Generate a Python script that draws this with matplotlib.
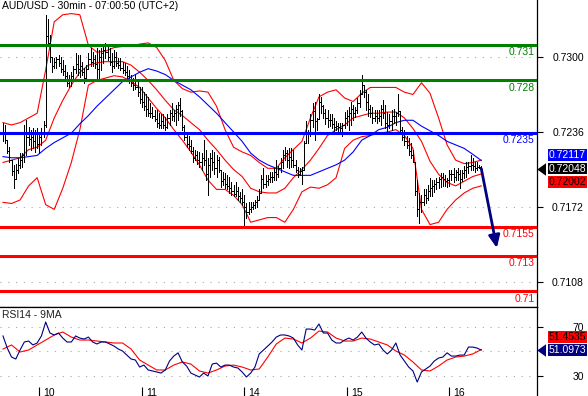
import numpy as np
import matplotlib
matplotlib.use("Agg")
import matplotlib.pyplot as plt
import matplotlib.transforms as mtransforms
from matplotlib.collections import LineCollection

plt.rcParams["font.family"] = ["Liberation Sans", "DejaVu Sans"]
plt.rcParams["font.size"] = 7.5

title = "AUD/USD - 30min - 07:00:50 (UTC+2)"

# 30min bars, prices in pips (1 pip = 0.0001)
high_pips = [
    7244, 7242, 7229, 7223, 7212, 7208, 7209, 7214, 7218, 7218,
    7242, 7246, 7240, 7238, 7239, 7238, 7239, 7236, 7239, 7245,
    7336, 7332, 7319, 7300, 7299, 7300, 7302, 7300, 7297, 7293,
    7287, 7285, 7287, 7292, 7303, 7302, 7302, 7296, 7291, 7293,
    7303, 7308, 7304, 7302, 7308, 7306, 7308, 7310, 7312, 7311,
    7308, 7303, 7306, 7304, 7299, 7299, 7296, 7295, 7292, 7289,
    7285, 7282, 7285, 7279, 7274, 7274, 7270, 7268, 7266, 7261,
    7257, 7255, 7255, 7252, 7251, 7251, 7249, 7251, 7255, 7261,
    7255, 7259, 7262, 7265, 7255, 7242, 7235, 7233, 7229, 7223,
    7221, 7220, 7219, 7218, 7229, 7221, 7214, 7218, 7221, 7219,
    7216, 7215, 7204, 7202, 7201, 7199, 7198, 7193, 7191, 7193,
    7189, 7185, 7187, 7182, 7175, 7176, 7176, 7176, 7178, 7181,
    7187, 7199, 7205, 7199, 7199, 7202, 7202, 7205, 7212, 7207,
    7214, 7221, 7223, 7221, 7222, 7222, 7221, 7212, 7206, 7205,
    7206, 7228, 7245, 7238, 7251, 7261, 7262, 7248, 7268, 7266,
    7259, 7256, 7255, 7251, 7251, 7248, 7245, 7244, 7244, 7244,
    7253, 7255, 7257, 7262, 7259, 7257, 7265, 7272, 7285, 7276,
    7272, 7268, 7259, 7257, 7255, 7255, 7255, 7259, 7263, 7259,
    7253, 7251, 7255, 7256, 7253, 7268, 7254, 7240, 7238, 7233,
    7231, 7227, 7221, 7210, 7195, 7184, 7182, 7187, 7187, 7191,
    7197, 7195, 7195, 7197, 7198, 7201, 7201, 7199, 7197, 7204,
    7204, 7205, 7204, 7205, 7204, 7204, 7207, 7210, 7210, 7216,
    7214, 7210, 7210, 7208, 7207,
]
low_pips = [
    7228, 7227, 7218, 7210, 7199, 7188, 7197, 7201, 7205, 7206,
    7210, 7216, 7225, 7221, 7222, 7219, 7222, 7218, 7225, 7232,
    7240, 7309, 7296, 7287, 7291, 7291, 7292, 7287, 7285, 7282,
    7275, 7274, 7275, 7280, 7286, 7285, 7283, 7285, 7278, 7280,
    7290, 7292, 7292, 7291, 7282, 7282, 7289, 7295, 7299, 7297,
    7293, 7287, 7291, 7292, 7291, 7289, 7286, 7285, 7282, 7278,
    7275, 7272, 7273, 7267, 7261, 7257, 7255, 7250, 7250, 7249,
    7248, 7245, 7240, 7239, 7239, 7239, 7238, 7239, 7242, 7246,
    7245, 7242, 7246, 7250, 7238, 7229, 7223, 7221, 7218, 7210,
    7212, 7209, 7206, 7204, 7208, 7195, 7182, 7198, 7204, 7200,
    7198, 7202, 7189, 7191, 7188, 7187, 7184, 7182, 7181, 7181,
    7178, 7176, 7174, 7157, 7163, 7166, 7168, 7170, 7171, 7172,
    7178, 7184, 7188, 7189, 7191, 7193, 7193, 7195, 7195, 7198,
    7202, 7205, 7212, 7206, 7205, 7206, 7206, 7202, 7198, 7199,
    7192, 7204, 7227, 7227, 7233, 7240, 7229, 7238, 7247, 7252,
    7248, 7243, 7240, 7241, 7239, 7236, 7238, 7236, 7235, 7233,
    7239, 7242, 7238, 7242, 7246, 7249, 7252, 7257, 7268, 7266,
    7255, 7250, 7249, 7244, 7245, 7244, 7245, 7242, 7248, 7239,
    7235, 7239, 7238, 7244, 7242, 7250, 7235, 7229, 7225, 7222,
    7216, 7214, 7210, 7182, 7164, 7158, 7168, 7174, 7175, 7178,
    7181, 7181, 7185, 7187, 7188, 7189, 7190, 7190, 7189, 7190,
    7195, 7193, 7195, 7195, 7188, 7194, 7197, 7198, 7201, 7204,
    7204, 7202, 7204, 7205, 7204,
]
close_pips = [
    7236, 7229, 7220, 7212, 7203, 7196, 7204, 7208, 7212, 7216,
    7236, 7232, 7230, 7232, 7228, 7234, 7226, 7232, 7236, 7242,
    7318, 7312, 7300, 7292, 7296, 7298, 7295, 7290, 7288, 7284,
    7278, 7280, 7284, 7290, 7294, 7290, 7292, 7287, 7282, 7290,
    7298, 7296, 7298, 7294, 7290, 7300, 7303, 7306, 7304, 7300,
    7296, 7292, 7300, 7295, 7293, 7291, 7289, 7287, 7284, 7281,
    7278, 7276, 7274, 7270, 7264, 7262, 7258, 7256, 7252, 7252,
    7250, 7247, 7244, 7242, 7245, 7242, 7240, 7248, 7252, 7250,
    7252, 7256, 7259, 7254, 7240, 7232, 7226, 7224, 7220, 7214,
    7216, 7212, 7210, 7214, 7212, 7200, 7208, 7214, 7210, 7205,
    7212, 7204, 7194, 7196, 7192, 7190, 7188, 7186, 7183, 7186,
    7181, 7180, 7176, 7172, 7168, 7170, 7172, 7174, 7176, 7178,
    7184, 7196, 7192, 7194, 7196, 7198, 7198, 7202, 7200, 7205,
    7210, 7216, 7218, 7212, 7215, 7212, 7208, 7204, 7200, 7203,
    7204, 7227, 7236, 7234, 7246, 7254, 7245, 7247, 7262, 7258,
    7252, 7248, 7246, 7246, 7243, 7240, 7241, 7240, 7239, 7242,
    7248, 7250, 7252, 7256, 7252, 7255, 7261, 7268, 7276, 7270,
    7262, 7256, 7252, 7248, 7250, 7248, 7250, 7256, 7252, 7244,
    7242, 7245, 7250, 7250, 7252, 7254, 7238, 7232, 7228, 7225,
    7220, 7216, 7210, 7186, 7170, 7176, 7176, 7182, 7180, 7186,
    7188, 7190, 7192, 7193, 7196, 7198, 7196, 7194, 7195, 7200,
    7200, 7198, 7202, 7200, 7196, 7201, 7204, 7206, 7207, 7208,
    7207, 7205, 7206, 7206, 7204.8,
]

# indicator lines, read every 4th bar (pips)
bb_upper_pips = [
    7244, 7242, 7244, 7248, 7252, 7289, 7330, 7336, 7337, 7336,
    7310, 7304, 7305, 7308, 7309, 7309, 7311, 7312, 7308, 7297,
    7280, 7273, 7270, 7271, 7270, 7258, 7238, 7223, 7219, 7216,
    7210, 7205, 7205, 7214, 7221, 7228, 7248, 7266, 7270, 7272,
    7265, 7262, 7269, 7274, 7274, 7274, 7274, 7270, 7268, 7278,
    7269, 7248, 7225, 7212, 7209, 7210, 7212,
]
bb_mid_pips = [
    7210, 7212, 7214, 7221, 7223, 7229, 7248, 7263, 7276, 7287,
    7293, 7295, 7296, 7296, 7296, 7293, 7287, 7280, 7272, 7263,
    7255, 7250, 7244, 7238, 7229, 7221, 7212, 7204, 7198, 7188,
    7185, 7184, 7184, 7188, 7197, 7204, 7212, 7222, 7233, 7238,
    7242, 7248, 7250, 7252, 7252, 7253, 7253, 7248, 7239, 7228,
    7211, 7200, 7193, 7190, 7194, 7198, 7200.2,
]
bb_lower_pips = [
    7176, 7175, 7178, 7190, 7197, 7174, 7170, 7188, 7210, 7238,
    7276, 7280, 7282, 7284, 7283, 7279, 7274, 7265, 7256, 7248,
    7238, 7229, 7219, 7208, 7195, 7187, 7187, 7182, 7174, 7159,
    7161, 7163, 7163, 7159, 7170, 7185, 7189, 7188, 7191, 7197,
    7222, 7229, 7232, 7233, 7235, 7236, 7238, 7233, 7222, 7170,
    7157, 7159, 7170, 7178, 7184, 7188, 7190,
]
sma_pips = [
    7215, 7214, 7214, 7215, 7216, 7222, 7227, 7231, 7235, 7243,
    7250, 7258, 7265, 7272, 7279, 7283, 7287, 7290, 7288, 7285,
    7280, 7276, 7272, 7266, 7259, 7252, 7244, 7236, 7228, 7218,
    7212, 7208, 7205, 7202, 7199, 7199, 7199, 7202, 7205, 7208,
    7212, 7219, 7229, 7233, 7238, 7240, 7244, 7246, 7246, 7241,
    7237, 7233, 7228, 7225, 7222, 7217, 7211.7,
]

# RSI14 every 2nd bar, its 9MA every 4th bar
rsi14 = [
    62.5, 52.7, 45.4, 43.8, 51.1, 57.6, 58.4, 55.2, 56.8, 62.5,
    73.8, 64.9, 63.3, 64.9, 60.8, 57.6, 57.6, 62.5, 60.8, 60.0,
    61.6, 57.6, 56.0, 57.6, 57.6, 56.0, 54.3, 51.9, 50.3, 47.0,
    43.8, 43.0, 37.3, 38.9, 34.9, 34.1, 33.3, 32.4, 34.9, 42.2,
    46.2, 48.8, 41.4, 38.1, 32.4, 30.8, 29.2, 32.4, 30.0, 39.7,
    40.5, 37.3, 38.9, 38.9, 37.3, 36.5, 33.3, 29.2, 32.4, 37.3,
    47.9, 51.1, 54.3, 57.6, 61.6, 63.3, 63.3, 62.5, 60.8, 55.2,
    51.1, 68.1, 68.1, 67.3, 72.2, 64.9, 64.9, 59.2, 56.8, 56.8,
    59.2, 60.8, 59.2, 61.6, 65.7, 60.8, 57.6, 55.2, 56.0, 51.1,
    47.9, 51.1, 56.8, 47.0, 42.2, 37.3, 34.1, 25.1, 33.3, 35.7,
    38.1, 42.2, 44.6, 45.4, 48.8, 46.2, 46.2, 47.0, 47.0, 53.5,
    53.5, 52.7, 51.0973,
]
rsi_ma9 = [
    51.9, 55.2, 49.5, 51.1, 55.2, 59.2, 63.3, 65.7, 61.6, 59.2,
    59.2, 58.4, 57.6, 56.8, 56.8, 51.9, 43.0, 38.9, 34.9, 34.9,
    38.9, 41.4, 39.7, 34.1, 32.4, 34.9, 38.1, 38.9, 37.3, 34.9,
    35.7, 45.4, 56.0, 60.8, 60.0, 56.8, 60.8, 66.5, 65.7, 60.8,
    58.4, 58.4, 60.8, 60.0, 57.6, 55.2, 50.3, 47.0, 41.4, 34.9,
    34.1, 38.1, 43.0, 45.4, 46.2, 47.9, 51.4535,
]

day_labels = ["10", "11", "14", "15", "16"]
day_start_bar = [17, 65, 113, 161, 209]

levels = [0.731, 0.728, 0.7235, 0.7155, 0.713, 0.71]
level_text = ["0.731", "0.728", "0.7235", "0.7155", "0.713", "0.71"]
level_colors = ["#008000", "#008000", "#0000ff", "#ff0000", "#ff0000", "#ff0000"]
price_ticks = [0.7300, 0.7236, 0.7172, 0.7108]
rsi_ticks = [70, 30]
rsi_grid = [70, 50, 30]

forecast_bar = 231.3
forecast_price = 0.7137

high = np.array(high_pips) / 1e4
low = np.array(low_pips) / 1e4
close = np.array(close_pips) / 1e4
openp = np.r_[close[0], close[:-1]]
n = len(close)
ind_x = np.arange(0, n, 4)
rsi_x = np.arange(0, n, 2)

fig = plt.figure(figsize=(5.88, 3.96), dpi=100)
ax = fig.add_axes([0, 89 / 396, 537 / 588, 307 / 396])
axr = fig.add_axes([0, 0, 537 / 588, 89 / 396])

for a in (ax, axr):
    a.set_xlim(-1.4, 250.1)
    a.set_facecolor("white")
    a.spines["left"].set_visible(False)
    a.spines["right"].set_linewidth(0.9)
    a.yaxis.tick_right()
    a.tick_params(axis="y", direction="out", length=4.3, width=0.8, pad=29.5, labelsize=7.5)
ax.spines["top"].set_visible(False)
ax.spines["bottom"].set_linewidth(0.9)
axr.spines["bottom"].set_visible(False)
axr.spines["top"].set_linewidth(0.9)

# ---- price panel
ax.set_ylim(0.70867, 0.73486)
ax.set_yticks(price_ticks)
ax.set_yticklabels([f"{p:.4f}" for p in price_ticks])
for lbl in ax.get_yticklabels():
    lbl.set_horizontalalignment("right")
ax.tick_params(axis="x", bottom=False, labelbottom=False)
for p in price_ticks:
    ax.axhline(p, color="#a8a8a8", lw=0.8, ls=(0, (1, 6)), zorder=1)

ax.plot(ind_x, np.array(bb_upper_pips) / 1e4, color="red", lw=0.8, zorder=2)
ax.plot(ind_x, np.array(bb_mid_pips) / 1e4, color="red", lw=0.8, zorder=2)
ax.plot(ind_x, np.array(bb_lower_pips) / 1e4, color="red", lw=0.8, zorder=2)
ax.plot(ind_x, np.array(sma_pips) / 1e4, color="blue", lw=0.8, zorder=2)

# OHLC bars: crisp stems with short open / close ticks
stems = [[(i, low[i]), (i, high[i])] for i in range(n)]
ticks = []
for i in range(n):
    ticks.append([(i - 0.4, openp[i]), (i, openp[i])])
    ticks.append([(i, close[i]), (i + 0.4, close[i])])
ax.add_collection(LineCollection(stems, colors="black", linewidths=0.72,
                                 antialiaseds=False, zorder=3))
ax.add_collection(LineCollection(ticks, colors="black", linewidths=0.72,
                                 antialiaseds=False, zorder=3))

lvl_tr = ax.get_yaxis_transform()
for lv, txt, col in zip(levels, level_text, level_colors):
    ax.axhline(lv, color=col, lw=2.2, zorder=4)
    ax.annotate(txt, xy=(0.996, lv), xycoords=lvl_tr, xytext=(0, -1.6),
                textcoords="offset points", ha="right", va="top", color=col, zorder=5)

ax.annotate("", xy=(forecast_bar, forecast_price), xytext=(n - 1, close[-1]),
            arrowprops=dict(arrowstyle="-|>,head_length=1.0,head_width=0.45",
                            color="#000080", lw=2.0, shrinkA=0, shrinkB=0),
            annotation_clip=False, zorder=6)

ax.text(2 / 537, 1 - 1 / 307, title, transform=ax.transAxes, ha="left", va="top",
        fontsize=7.5, color="black")


def tag(a, ref, txt, fc, tc, dy, arrow=False):
    tr = a.get_yaxis_transform()
    a.annotate(txt, xy=(1, ref), xycoords=tr, xytext=(8.6, dy), textcoords="offset points",
               ha="left", va="center", color=tc, fontsize=7.5, annotation_clip=False,
               bbox=dict(boxstyle="square,pad=0.08", fc=fc, ec="none"), zorder=7)
    if arrow:
        off = mtransforms.ScaledTranslation(6.2 / 100, dy / 72, fig.dpi_scale_trans)
        a.plot([1], [ref], transform=tr + off, marker=[(-1, 0), (0.4, 1), (0.4, -1)],
               ms=9, color=fc, mec="none", clip_on=False, zorder=7)


# value tags stacked around the last close
last = close[-1]
tag(ax, last, f"{sma_pips[-1] / 1e4:.5f}", "#0000ff", "white", 9.6)
tag(ax, last, f"{last:.5f}", "black", "white", 0, arrow=True)
tag(ax, last, f"{bb_mid_pips[-1] / 1e4:.5f}", "#ff0000", "black", -9.6)

# ---- RSI panel
axr.set_ylim(13.8, 86.0)
axr.set_yticks(rsi_ticks)
axr.set_yticklabels([str(t) for t in rsi_ticks])
for lbl in axr.get_yticklabels():
    lbl.set_horizontalalignment("right")
for g in rsi_grid:
    axr.axhline(g, color="#a8a8a8", lw=0.8, ls=(0, (1, 6)), zorder=1)
axr.plot(ind_x, rsi_ma9, color="red", lw=0.8, zorder=2)
axr.plot(rsi_x, rsi14, color="#000080", lw=0.8, zorder=3)
axr.text(2 / 537, 0.965, "RSI14 - 9MA", transform=axr.transAxes, ha="left", va="top",
         fontsize=7.5, color="#202020")

axr.set_xticks(day_start_bar)
axr.tick_params(axis="x", direction="in", length=6.5, width=0.8, labelbottom=False)
lab_tr = mtransforms.offset_copy(axr.get_xaxis_transform(), fig=fig, x=3, y=0, units="points")
for d, lab in zip(day_start_bar, day_labels):
    axr.text(d, 0.095, lab, transform=lab_tr, ha="left", va="top", fontsize=7.5)

tag(axr, rsi14[-1], f"{rsi_ma9[-1]:.4f}", "#ff0000", "black", 9.5)
tag(axr, rsi14[-1], f"{rsi14[-1]:.4f}", "#000080", "white", 0, arrow=True)

fig.savefig("out.png", dpi=100)
